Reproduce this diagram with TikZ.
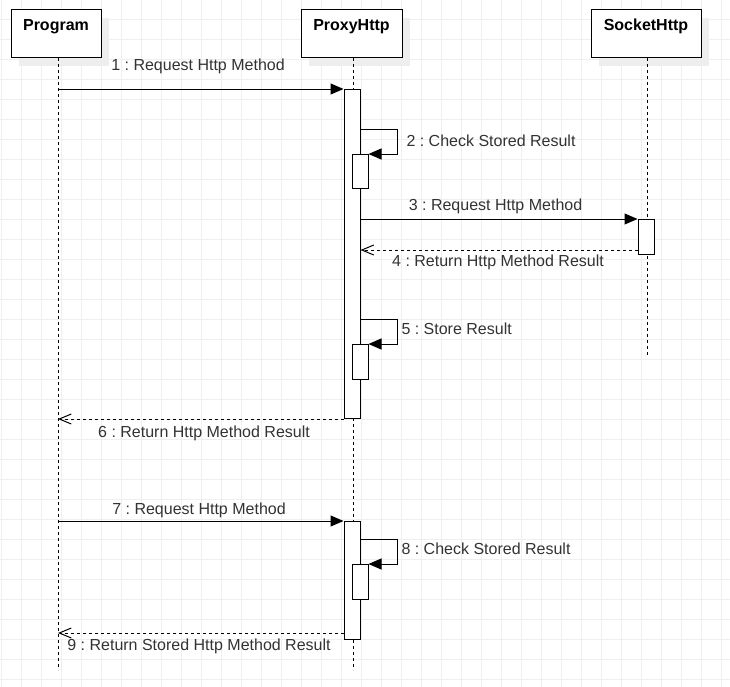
\documentclass[tikz,border=0pt]{standalone}
\usepackage{fontspec}
\setsansfont{Liberation Sans}
\frenchspacing
\usetikzlibrary{arrows.meta, shadows}
\definecolor{cline}{HTML}{000000}
\definecolor{ctext}{HTML}{333333}
\definecolor{cgrid}{HTML}{EFEFEF}
\definecolor{cshadow}{HTML}{EEEEEE}
\tikzset{
  every picture/.style={font=\sffamily\fontsize{16pt}{19pt}\selectfont, line width=1pt},
  gridline/.style={draw=cgrid, line width=1pt, step=20pt},
  lifebox/.style={draw=cline, fill=white, anchor=north, inner xsep=0pt, inner ysep=0pt,
    text height=21pt, text depth=27pt, font=\sffamily\bfseries\fontsize{16pt}{19pt}\selectfont,
    drop shadow={shadow xshift=8pt, shadow yshift=-8pt, fill=cshadow, opacity=1}},
  lifeline/.style={draw=cline, dash pattern=on 3pt off 3pt},
  act/.style={draw=cline, fill=white, anchor=north, minimum width=16pt, inner sep=0pt},
  msg/.style={-{Triangle[length=13pt, width=11pt]}, draw=cline},
  ret/.style={-{Straight Barb[length=12pt, width=10pt]}, draw=cline, dash pattern=on 3pt off 3pt},
  lbl/.style={text=ctext, inner sep=0pt},
}
\begin{document}
\begin{tikzpicture}[x=1pt, y=-1pt]
  \useasboundingbox (0,0) rectangle (730,686);
  \fill[white] (0,0) rectangle (730,686);
  \begin{scope}
    \clip (0,0) rectangle (730,686);
    \draw[gridline, shift={(1pt,1pt)}] (-20pt,20pt) grid (740pt,-700pt);
  \end{scope}

  % participants
  \node[lifebox, minimum width=90pt] (prog) at (56,9) {Program};
  \node[lifebox, minimum width=101pt] (proxy) at (351.5,9) {ProxyHttp};
  \node[lifebox, minimum width=110pt] (sock) at (646,9) {SocketHttp};
  \coordinate (progend) at (58,670);
  \coordinate (proxyend) at (353,670);
  \coordinate (sockend) at (647,355);
  \draw[lifeline] (progend |- prog.south) -- (progend);
  \draw[lifeline] (proxyend |- proxy.south) -- (proxyend);
  \draw[lifeline] (sockend |- sock.south) -- (sockend);

  % activations
  \node[act, minimum height=329pt] (a1) at (352,89) {};
  \node[act, minimum height=34pt] (n2) at (360,154) {};
  \node[act, minimum height=35pt] (s3) at (646,219) {};
  \node[act, minimum height=35pt] (n5) at (360,344) {};
  \node[act, minimum height=118pt] (a7) at (352,521) {};
  \node[act, minimum height=35pt] (n8) at (360,564) {};

  % messages
  \draw[msg] (a1.north west -| progend) -- (a1.north west);
  \draw[msg] ([yshift=-40pt]a1.north east) -- ++(37,0) |- (n2.north east);
  \draw[msg] (s3.north west -| a1.east) -- (s3.north west);
  \draw[ret] ([yshift=5pt]s3.south west) -- ([yshift=5pt]s3.south west -| a1.east);
  \draw[msg] ([yshift=-230pt]a1.north east) -- ++(37,0) |- (n5.north east);
  \draw[ret] (a1.south west) -- (a1.south west -| progend);
  \draw[msg] (a7.north west -| progend) -- (a7.north west);
  \draw[msg] ([yshift=-18pt]a7.north east) -- ++(37,0) |- (n8.north east);
  \draw[ret] ([yshift=7pt]a7.south west) -- ([yshift=7pt]a7.south west -| progend);

  \node[lbl, anchor=base] (l1) at (198,70) {1 : Request Http Method};
  \node[lbl, anchor=base west] (l2) at (406,146) {2 : Check Stored Result};
  \node[lbl, anchor=base] (l3) at (495.5,210) {3 : Request Http Method};
  \node[lbl, anchor=base] (l4) at (498,266) {4 : Return Http Method Result};
  \node[lbl, anchor=base west] (l5) at (401,334) {5 : Store Result};
  \node[lbl, anchor=base] (l6) at (204,437) {6 : Return Http Method Result};
  \node[lbl, anchor=base] (l7) at (199,514) {7 : Request Http Method};
  \node[lbl, anchor=base west] (l8) at (401,554) {8 : Check Stored Result};
  \node[lbl, anchor=base] (l9) at (199,650) {9 : Return Stored Http Method Result};
\end{tikzpicture}
\end{document}
